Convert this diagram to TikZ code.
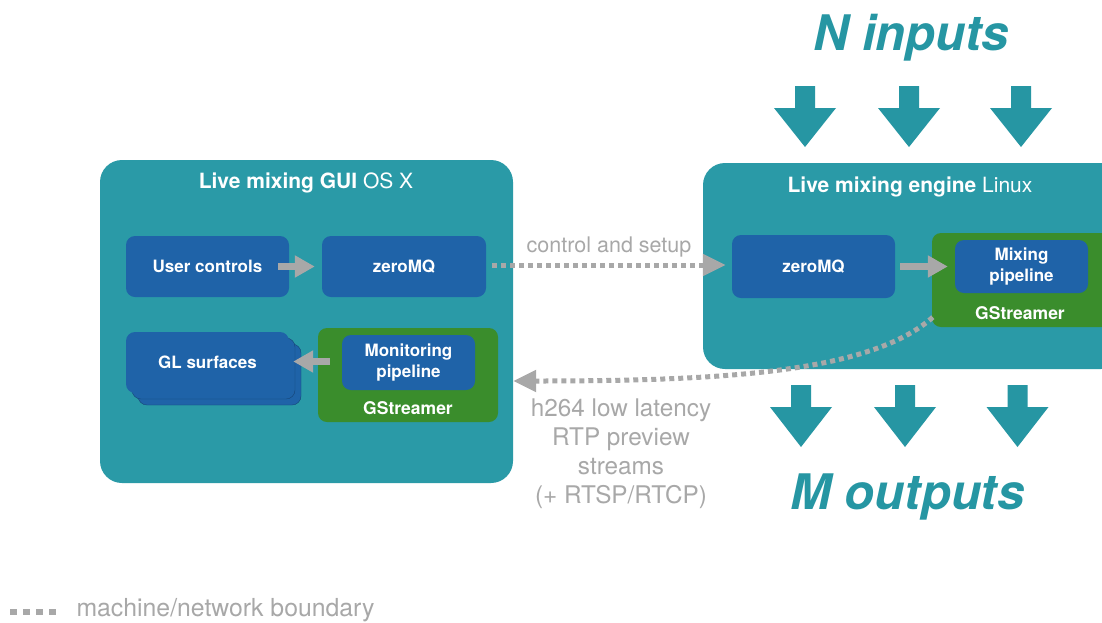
\documentclass[tikz,border=0pt]{standalone}
\usepackage{fontspec}
\setmainfont{TeX Gyre Heros}
\usepackage{xcolor}
\usepackage{tikz}
\usetikzlibrary{calc}
\usetikzlibrary{arrows.meta}
\usetikzlibrary{positioning}

\definecolor{boxteal}{RGB}{42,154,167}
\definecolor{inkteal}{RGB}{38,150,163}
\definecolor{boxblue}{RGB}{31,99,168}
\definecolor{boxgreen}{RGB}{58,141,44}
\definecolor{linkgrey}{RGB}{168,168,168}

\tikzset{
  machine/.style={rectangle, rounded corners=22pt, fill=boxteal, inner sep=0pt},
  block/.style={rectangle, rounded corners=9pt, fill=boxblue, text=white, align=center,
    inner sep=0pt, font=\bfseries\fontsize{17}{21}\selectfont},
  gst/.style={rectangle, rounded corners=9pt, fill=boxgreen, inner sep=0pt},
  title/.style={text=white, font=\fontsize{21}{24}\selectfont},
  gstname/.style={text=white, font=\bfseries\fontsize{17.5}{21}\selectfont},
  flow/.style={-{Triangle[length=20pt,width=21pt]}, line width=7pt, draw=linkgrey},
  link/.style={-{Triangle[length=23pt,width=21pt]}, line width=5pt, draw=linkgrey,
    dash pattern=on 5pt off 4pt},
  note/.style={text=linkgrey, align=center, font=\fontsize{21.5}{29}\selectfont},
  bigtext/.style={text=inkteal, font=\bfseries\itshape\fontsize{49}{55}\selectfont},
  bigarrow/.style={fill=inkteal},
}

\begin{document}
\begin{tikzpicture}[x=1pt, y=-1pt]
 \path[use as bounding box, fill=white] (0,0) rectangle (1102,622);

 % the two machines
 \node [machine, minimum width=413pt, minimum height=323pt] (gui) at (306.5,321.5) {};
 \node [machine, minimum width=420pt, minimum height=206pt] (engine) at (913,266) {};
 \node [title] (guititle) at (306,183) {{\bfseries Live mixing GUI} OS X};
 \node [title] (enginetitle) at (910,187) {{\bfseries Live mixing engine} Linux};

 % GUI side
 \node [block, minimum width=163pt, minimum height=61pt] (userctl) at (207.5,266.5) {User controls};
 \node [block, minimum width=164pt, minimum height=61pt] (zmqA) at (404,266.5) {zeroMQ};
 \node [block, draw=boxblue!70!black, minimum width=163pt, minimum height=61pt] (glback2) at (219.5,374.5) {};
 \node [block, draw=boxblue!70!black, minimum width=163pt, minimum height=61pt] (glback1) at (213.5,368.5) {};
 \node [block, minimum width=163pt, minimum height=61pt] (glsurf) at (207.5,362.5) {GL surfaces};
 \node [gst, minimum width=180pt, minimum height=94pt] (gstA) at (408,375) {};
 \node [block, minimum width=133pt, minimum height=55pt] (monpipe) at (408.5,362.5) {Monitoring\\pipeline};
 \node [gstname] (gstAname) at (408,408) {GStreamer};
 \draw [flow] ([xshift=-11pt]userctl.east) -- ([xshift=-7pt]zmqA.west);
 \draw [flow] ([xshift=-12pt, yshift=1pt]monpipe.west) -- ([xshift=4pt, yshift=1pt]glsurf.east);

 % engine side
 \node [block, minimum width=163pt, minimum height=63pt] (zmqB) at (813.5,266.5) {zeroMQ};
 \node [gst, minimum width=180pt, minimum height=94pt] (gstB) at (1022,280) {};
 \node [block, minimum width=133pt, minimum height=53pt] (mixpipe) at (1021.5,266.5) {Mixing\\pipeline};
 \node [gstname] (gstBname) at (1020,313) {GStreamer};
 \draw [flow] ([xshift=5pt]zmqB.east) -- ([xshift=-7pt]mixpipe.west);

 % machine/network boundary links
 \draw [link] ([xshift=6pt, yshift=1.5pt]zmqA.east) -- ([xshift=-6pt, yshift=1.5pt]zmqB.west)
   node [note, midway, above=2pt] (ctltext) {control and setup};
 \coordinate (streamstart) at ([shift={(1pt,10pt)}]gstB.south west);
 \coordinate (streamend) at (gui.east |- 0,381);
 \draw [link] (streamstart) .. controls (870,373) and (720,381) .. (streamend);
 \node [note, font=\fontsize{24.3}{29}\selectfont] (streamtext) at (621,454)
   {h264 low latency\\RTP preview\\streams\\(+ RTSP/RTCP)};

 % inputs and outputs
 \node [bigtext] (ninputs) at (911,38) {N inputs};
 \node [bigtext] (moutputs) at (907.5,497) {M outputs};
 \foreach \ax in {805,909,1021}
  \fill [bigarrow] (\ax-10,86) -- ++(20,0) -- ++(0,22) -- ++(21,0) -- ++(-31,39)
    -- ++(-31,-39) -- ++(21,0) -- cycle;
 \foreach \ax in {801,905,1017.5}
  \fill [bigarrow] (\ax-10,385) -- ++(20,0) -- ++(0,22) -- ++(21,0) -- ++(-31,40)
    -- ++(-31,-40) -- ++(21,0) -- cycle;

 % legend
 \node [note, anchor=west, font=\fontsize{24.8}{28}\selectfont] (legend) at (73,610) {machine/network boundary};
 \coordinate (legstart) at (10,612);
 \draw [draw=linkgrey, line width=6pt, dash pattern=on 7pt off 6pt] (legstart) -- (56,612);
\end{tikzpicture}
\end{document}
